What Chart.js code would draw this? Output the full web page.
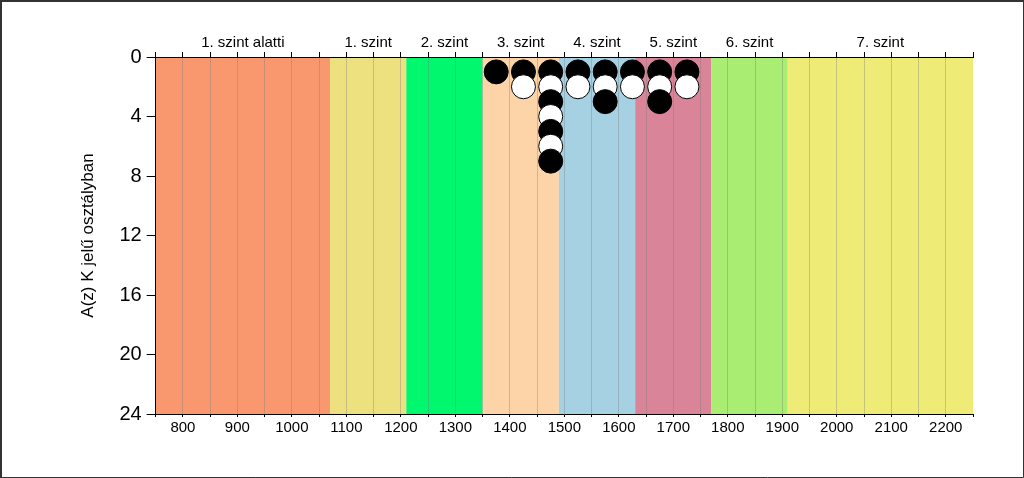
<!DOCTYPE html>
<html>
<head>
<meta charset="utf-8">
<script src="https://cdn.jsdelivr.net/npm/chart.js@4/dist/chart.umd.min.js"></script>
<style>
  html, body { margin: 0; padding: 0; background: #fff; }
  #wrap { width: 1024px; height: 478px; }
</style>
</head>
<body>
<div id="wrap"><canvas id="myChart" width="1024" height="478"></canvas></div>
<script>
// score bins (x) and how many students fell in each one
let bins = [1375, 1425, 1475, 1525, 1575, 1625, 1675, 1725];
let counts = [1, 2, 7, 2, 3, 2, 3, 2];

// proficiency level bands
let bandLabels = ["1. szint alatti", "1. szint", "2. szint", "3. szint", "4. szint", "5. szint", "6. szint", "7. szint"];
let bandStart = [750, 1070, 1210, 1350, 1490, 1630, 1770, 1910];
let bandEnd = [1070, 1210, 1350, 1490, 1630, 1770, 1910, 2250];
let bandColors = ["#F9986F", "#EDE07E", "#00F76E", "#FDD3A8", "#A5D1E3", "#D98498", "#A9EE72", "#EEEC76"];

let xMin = 750, xMax = 2250;
let yTicks = [0, 4, 8, 12, 16, 20, 24];

// stack the dots: one per student, drawn row by row so lower rows lie on top
let points = [];
let maxCount = Math.max(...counts);
for (let level = 1; level <= maxCount; level++) {
  bins.forEach((b, i) => {
    if (counts[i] >= level) points.push({ x: b, y: level });
  });
}
let fills = points.map((p) => (p.y % 2 == 1 ? "#000000" : "#ffffff"));

let bandPlugin = {
  id: "bands",
  beforeDraw(chart) {
    let c = chart.ctx;
    let xs = chart.scales.x;
    let area = chart.chartArea;
    c.save();
    c.fillStyle = "#fff";
    c.fillRect(0, 0, chart.width, chart.height);
    for (let i = 0; i < bandStart.length; i++) {
      let x1 = xs.getPixelForValue(bandStart[i]);
      let x2 = xs.getPixelForValue(bandEnd[i]);
      c.fillStyle = bandColors[i];
      c.fillRect(x1, area.top, x2 - x1, area.bottom - area.top);
    }
    c.restore();
  },
  afterDraw(chart) {
    let c = chart.ctx;
    let xs = chart.scales.x;
    let area = chart.chartArea;
    c.save();
    c.fillStyle = "#000";
    c.font = "15px 'Liberation Sans', Arial, sans-serif";
    c.textAlign = "center";
    c.textBaseline = "middle";
    for (let i = 0; i < bandLabels.length; i++) {
      let mid = xs.getPixelForValue((bandStart[i] + bandEnd[i]) / 2);
      c.fillText(bandLabels[i], mid, area.top - 14);
    }
    // outer frame
    c.strokeStyle = "#333";
    c.lineWidth = 2;
    c.beginPath();
    c.moveTo(1, chart.height);
    c.lineTo(1, 1);
    c.lineTo(chart.width, 1);
    c.stroke();
    c.lineWidth = 1;
    c.beginPath();
    c.moveTo(chart.width - 0.5, 0);
    c.lineTo(chart.width - 0.5, chart.height - 0.5);
    c.lineTo(0, chart.height - 0.5);
    c.stroke();
    c.restore();
  },
};

let ctx = document.getElementById("myChart").getContext("2d");
let myChart = new Chart(ctx, {
  type: "scatter",
  data: {
    datasets: [
      {
        data: points,
        backgroundColor: fills,
        borderColor: "#000",
        borderWidth: 1,
        pointRadius: 12,
        pointHoverRadius: 12,
      },
    ],
  },
  options: {
    responsive: false,
    animation: false,
    events: [],
    layout: { padding: { top: 52, right: 51, left: 78, bottom: 39 } },
    plugins: { legend: { display: false }, tooltip: { enabled: false } },
    scales: {
      x: {
        type: "linear",
        min: xMin,
        max: xMax,
        afterBuildTicks: (axis) => {
          let t = [];
          for (let v = xMin; v <= xMax; v += 50) t.push({ value: v });
          axis.ticks = t;
        },
        ticks: {
          autoSkip: false,
          maxRotation: 0,
          color: "#000",
          font: { size: 15, family: "'Liberation Sans', Arial" },
          padding: 2,
          callback: (v) => (v % 100 == 0 && v != xMin && v != xMax ? v : ""),
        },
        grid: {
          color: (c) => (c.tick && (c.tick.value == xMin || c.tick.value == xMax) ? "rgba(0,0,0,0)" : "rgba(120,120,120,0.35)"),
          tickColor: "#000",
          tickLength: 3,
        },
        border: { color: "#000", width: 1 },
      },
      xTop: {
        type: "linear",
        position: "top",
        min: xMin,
        max: xMax,
        afterBuildTicks: (axis) => {
          let t = [];
          for (let v = xMin; v <= xMax; v += 50) t.push({ value: v });
          axis.ticks = t;
        },
        ticks: { display: false },
        grid: { drawOnChartArea: false, tickColor: "#000", tickLength: 5 },
        border: { color: "#000", width: 1 },
      },
      y: {
        type: "linear",
        reverse: true,
        min: 0,
        max: 24,
        afterBuildTicks: (axis) => {
          axis.ticks = yTicks.map((v) => ({ value: v }));
        },
        ticks: {
          color: "#000",
          font: { size: 20, family: "'Liberation Sans', Arial" },
          padding: 5,
        },
        grid: { drawOnChartArea: false, tickColor: "#000", tickLength: 9 },
        border: { color: "#000", width: 1 },
        title: {
          display: true,
          text: "A(z) K jelű osztályban",
          color: "#000",
          font: { size: 17, family: "'Liberation Sans', Arial" },
          padding: { top: 0, bottom: 16 },
        },
      },
    },
  },
  plugins: [bandPlugin],
});
</script>
</body>
</html>
